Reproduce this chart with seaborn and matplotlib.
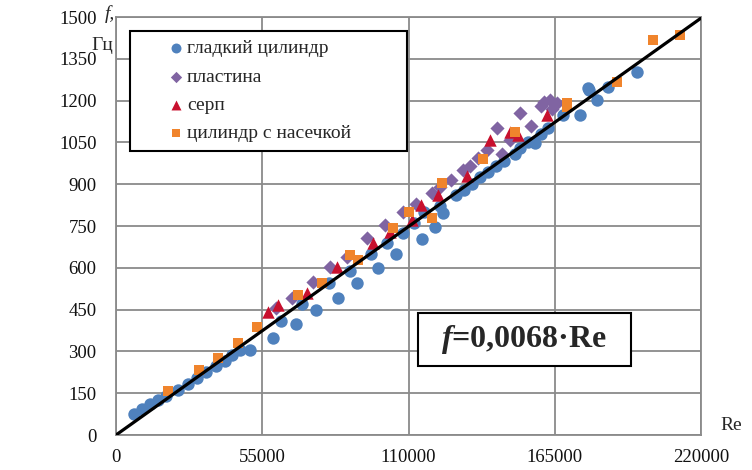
import matplotlib

matplotlib.use("Agg")

import matplotlib.pyplot as plt
from matplotlib.patches import Rectangle
import pandas as pd
import seaborn as sns


# гладкий цилиндр
smooth_re = [6800, 9800, 12800, 15800, 18800, 23300, 27100, 30500, 33800, 37600,
             41000, 43600, 46600, 50400, 59000, 62000, 67700, 70000, 75200, 80000,
             83500, 88000, 90600, 96000, 98500, 102000, 105300, 108000, 112000, 115100,
             116000, 120000, 122000, 123000, 128000, 131000, 134000, 137000, 140000, 143000,
             146000, 150000, 152000, 155000, 157600, 160000, 162500, 168000, 174500, 177500,
             178000, 181000, 185000, 196000]
smooth_f = [75, 93, 111, 126, 140, 161, 183, 205, 226, 248,
            266, 287, 305, 305, 348, 410, 398, 470, 449, 545,
            492, 590, 545, 650, 600, 690, 650, 725, 760, 703,
            800, 747, 820, 797, 860, 880, 900, 925, 945, 965,
            985, 1010, 1030, 1050, 1048, 1080, 1100, 1150, 1148, 1245,
            1238, 1202, 1250, 1303]

# пластина
plate_re = [60000, 66000, 74000, 80500, 87000, 94400, 101200, 108000, 113000, 118800,
            121800, 126000, 130500, 133000, 136100, 139500, 143300, 145000, 148000, 152000,
            156000, 160000, 161000, 163200, 164000, 165800]
plate_f = [455, 490, 549, 603, 640, 707, 754, 800, 830, 868,
           890, 915, 951, 965, 994, 1023, 1102, 1010, 1060, 1156,
           1110, 1180, 1195, 1202, 1170, 1192]

# серп
sickle_re = [57000, 60900, 72000, 83000, 96600, 103000, 111300, 114700, 121000, 132000,
             140600, 148000, 151000, 162000]
sickle_f = [440, 467, 510, 603, 689, 729, 772, 825, 861, 930,
            1059, 1087, 1075, 1150]

# цилиндр с насечкой
notched_re = [19600, 31200, 38200, 45800, 53000, 68400, 77500, 88000, 91000, 104200,
              110000, 118800, 122600, 138000, 150000, 169600, 169600, 188400, 202000, 212000]
notched_f = [157, 233, 276, 330, 386, 502, 545, 646, 628, 743,
             800, 779, 904, 990, 1087, 1177, 1192, 1267, 1418, 1436]

series_names = ["гладкий цилиндр", "пластина", "серп", "цилиндр с насечкой"]

fit_slope = 0.0068
fit_re = [0, 220000]

x_ticks = [0, 55000, 110000, 165000, 220000]
y_ticks = list(range(0, 1501, 150))


def build_frame():
    parts = []
    for name, xs, ys in zip(series_names,
                            [smooth_re, plate_re, sickle_re, notched_re],
                            [smooth_f, plate_f, sickle_f, notched_f]):
        parts.append(pd.DataFrame({"Re": xs, "f": ys, "series": name}))
    return pd.concat(parts, ignore_index=True)


def main():
    sns.set_style("white")
    plt.rcParams["font.family"] = ["Liberation Serif", "DejaVu Serif"]
    plt.rcParams["mathtext.fontset"] = "custom"
    plt.rcParams["mathtext.it"] = "Liberation Serif:italic:bold"
    plt.rcParams["mathtext.rm"] = "Liberation Serif:bold"

    df = build_frame()
    fit = pd.DataFrame({"Re": fit_re, "f": [fit_slope * r for r in fit_re]})

    fig = plt.figure(figsize=(7.52, 4.70), dpi=100)
    ax = fig.add_axes([116 / 752, 35 / 470, 585 / 752, 418 / 470])

    palette = {
        "гладкий цилиндр": "#4f81bd",
        "пластина": "#8064a2",
        "серп": "#c8102e",
        "цилиндр с насечкой": "#f0842c",
    }
    markers = {
        "гладкий цилиндр": "o",
        "пластина": "D",
        "серп": "^",
        "цилиндр с насечкой": "s",
    }
    sizes = {"o": 80, "D": 52, "^": 80, "s": 62}

    for name in series_names:
        sub = df[df["series"] == name]
        sns.scatterplot(
            data=sub, x="Re", y="f", color=palette[name], marker=markers[name],
            s=sizes[markers[name]], linewidth=0, label=name, ax=ax, zorder=3,
        )

    sns.lineplot(data=fit, x="Re", y="f", color="black", linewidth=2.3,
                 legend=False, ax=ax, zorder=4)

    ax.set_xlim(0, 220000)
    ax.set_ylim(0, 1500)
    ax.set_xticks(x_ticks)
    ax.set_yticks(y_ticks)
    ax.set_xticklabels([str(t) for t in x_ticks])
    ax.set_yticklabels([str(t) for t in y_ticks])
    ax.set_xlabel("")
    ax.set_ylabel("")

    ax.grid(True, color="#8a8a8a", linewidth=1.3)
    for side in ["left", "bottom", "top", "right"]:
        ax.spines[side].set_color("#8a8a8a")
        ax.spines[side].set_linewidth(1.3)
    ax.tick_params(axis="both", direction="out", color="#8a8a8a", width=1.3,
                   length=5, labelsize=13.5, labelcolor="#111111")
    ax.tick_params(axis="y", pad=9)
    ax.tick_params(axis="x", pad=5)

    handles, labels = ax.get_legend_handles_labels()
    leg = ax.legend(
        handles, labels,
        loc="upper left",
        bbox_to_anchor=(14 / 585, 273 / 418, 277 / 585, 131 / 418),
        mode="expand",
        borderaxespad=0,
        fontsize=14,
        frameon=True,
        fancybox=False,
        edgecolor="black",
        framealpha=1,
        handlelength=3.85,
        handletextpad=-1.36,
        labelspacing=0.55,
        borderpad=0.45,
        markerscale=0.8,
    )
    leg.get_frame().set_linewidth(1.5)
    leg.set_zorder(5)

    # formula box
    ax.add_patch(Rectangle((302 / 585, 69 / 418), 213 / 585, 53 / 418,
                           transform=ax.transAxes, facecolor="white",
                           edgecolor="black", linewidth=1.5, zorder=6))
    ax.text(408.5 / 585, 95.5 / 418, r"$f$=0,0068·Re", fontsize=23,
            fontweight="bold", ha="center", va="center", zorder=7,
            transform=ax.transAxes)

    fig.text(110 / 752, 1 - 14 / 470, "f,", fontsize=14, style="italic",
             ha="center", va="center")
    fig.text(102 / 752, 1 - 45 / 470, "Гц", fontsize=14, ha="center", va="center")
    fig.text(731 / 752, 1 - 425 / 470, "Re", fontsize=14, ha="center", va="center")

    fig.savefig("out.png", dpi=100)
    plt.close(fig)


if __name__ == "__main__":
    main()
